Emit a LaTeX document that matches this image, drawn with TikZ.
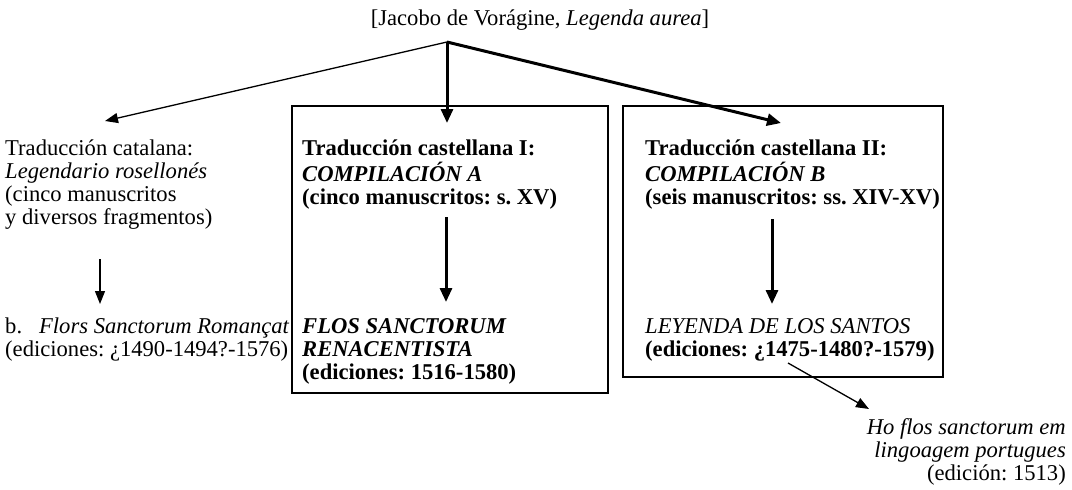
\documentclass[tikz,border=0pt]{standalone}
\usepackage{fontspec}
\setmainfont{Liberation Serif}
\usetikzlibrary{arrows.meta}
\begin{document}
\frenchspacing
\begin{tikzpicture}[x=1pt,y=-1pt]
\tikzset{
  txt/.style={inner sep=0pt, anchor=base west, font=\fontsize{22.6}{23.2}\selectfont\frenchspacing},
  txtr/.style={txt, anchor=base east},
  thinarr/.style={line width=1.3pt, -{Triangle[length=13pt,width=10pt]}},
  thickarr/.style={line width=3pt, -{Triangle[length=14pt,width=12pt]}},
  frame/.style={draw, line width=1.3pt, inner sep=0pt}
}
\useasboundingbox[fill=white] (0,0) rectangle (1072,490);

% boxes
\node[frame, minimum width=316pt, minimum height=287pt] (box1) at (450,249.5) {};
\node[frame, minimum width=320pt, minimum height=271pt] (box2) at (783,241.5) {};

% texts
\node[txt, anchor=base] (top) at (540,25) {[Jacobo de Vorágine, \textit{Legenda aurea}]};

\node[txt] (cat) at (5,155) {\begin{tabular}[t]{@{}l@{}}Traducción catalana:\\ \textit{Legendario rosellonés}\\ (cinco manuscritos\\ y diversos fragmentos)\end{tabular}};
\node[txt] (flors) at (5,333) {\begin{tabular}[t]{@{}l@{}}b.\hspace{17pt}\textit{Flors Sanctorum Romançat}\\ (ediciones: ¿1490-1494?-1576)\end{tabular}};

\node[txt] (compa) at (302,155) {\bfseries\begin{tabular}[t]{@{}l@{}}Traducción castellana I:\\ \textit{COMPILACIÓN A}\\ (cinco manuscritos: s. XV)\end{tabular}};
\node[txt] (flos) at (302,333) {\bfseries\begin{tabular}[t]{@{}l@{}}\textit{FLOS SANCTORUM}\\ \textit{RENACENTISTA}\\ (ediciones: 1516-1580)\end{tabular}};

\node[txt] (compb) at (645,155) {\bfseries\begin{tabular}[t]{@{}l@{}}Traducción castellana II:\\ \textit{COMPILACIÓN B}\\ (seis manuscritos: ss. XIV-XV)\end{tabular}};
\node[txt] (ley) at (645,333) {\begin{tabular}[t]{@{}l@{}}\textit{LEYENDA DE LOS SANTOS}\\ \textbf{(ediciones: ¿1475-1480?-1579)}\end{tabular}};

\node[txtr] (port) at (1066,434) {\begin{tabular}[t]{@{}r@{}}\textit{Ho flos sanctorum em}\\ \textit{lingoagem portugues}\\ (edición: 1513)\end{tabular}};

% connector points
\coordinate (src) at (447,42);
\coordinate (catin) at (105,121);
\coordinate (box1in) at (447,123);
\coordinate (box2in) at (781,123);
\coordinate (catout) at (100,259);
\coordinate (florsin) at (100,304);
\coordinate (compaout) at (446,217);
\coordinate (flosin) at (446,302);
\coordinate (compbout) at (772,219);
\coordinate (leyin) at (772,304);
\coordinate (leyout) at (788,363);
\coordinate (portin) at (869,409);

\draw[thinarr] (src) -- (catin);
\draw[thickarr] (src) -- (box1in);
\draw[thickarr] (src) -- (box2in);
\draw[thinarr] (catout) -- (florsin);
\draw[thickarr] (compaout) -- (flosin);
\draw[thickarr] (compbout) -- (leyin);
\draw[thinarr] (leyout) -- (portin);
\end{tikzpicture}
\end{document}
